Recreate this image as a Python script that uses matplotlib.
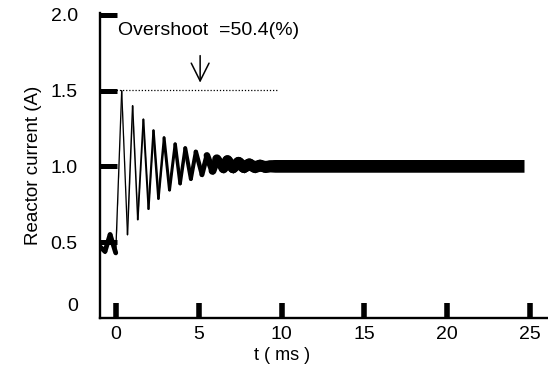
import numpy as np
import matplotlib
matplotlib.use("Agg")
import matplotlib.pyplot as plt
import matplotlib.transforms as mtransforms
from matplotlib.collections import LineCollection

plt.rcParams['font.family'] = ['Liberation Sans', 'DejaVu Sans']

# extrema of the reactor current waveform (t in ms, current in A)
t_ext = [-0.97, -0.67, -0.36, -0.02, 0.34, 0.69, 1.00, 1.31, 1.65, 1.96,
         2.26, 2.56, 2.90, 3.23, 3.57, 3.87, 4.18, 4.52, 4.82, 5.19,
         5.49, 5.83, 6.09, 6.49, 6.73, 7.07, 7.40, 7.72, 8.05, 8.37,
         8.70, 9.00, 9.30, 9.60, 24.65]
i_ext = [0.47, 0.44, 0.55, 0.43, 1.50, 0.55, 1.40, 0.65, 1.31, 0.72,
         1.237, 0.788, 1.19, 0.845, 1.148, 0.887, 1.121, 0.918, 1.097, 0.946,
         1.073, 0.971, 1.05, 0.988, 1.04, 0.991, 1.026, 0.995, 1.015, 0.996,
         1.007, 0.998, 1.002, 1.004, 1.004]
# half-thickness of the trace caused by the switching ripple (A)
ripple = [0.016, 0.016, 0.016, 0.016, 0.0043, 0.005, 0.005, 0.006, 0.0066, 0.0072,
          0.0082, 0.0082, 0.0099, 0.0099, 0.0115, 0.0115, 0.0132, 0.0132, 0.0148, 0.0164,
          0.022, 0.026, 0.030, 0.033, 0.035, 0.036, 0.038, 0.038, 0.038, 0.038,
          0.038, 0.038, 0.038, 0.042, 0.042]

overshoot = 50.4
peak_level = 1.505

t = np.array(t_ext)
i = np.array(i_ext)
r = np.array(ripple)

fig = plt.figure(figsize=(5.48, 3.65), dpi=100)
ax = fig.add_axes([0.1825, 0.1288, 0.8175, 0.8356])
ax.set_xlim(-0.97, 26.1)
ax.set_ylim(0, 2.013)

# ripple amplitude in A -> trace width in points, through the y scale
px_per_amp = ax.transData.transform((0, 1))[1] - ax.transData.transform((0, 0))[1]
widths = 2 * r * px_per_amp * 72 / fig.dpi

ax.fill_between(t, i - r, i + r, color='black', linewidth=0)
pts = np.column_stack([t, i])
segs = [pts[k:k + 2] for k in range(len(t) - 2)]
seg_w = [min(widths[k], widths[k + 1]) for k in range(len(t) - 2)]
lc = LineCollection(segs, linewidths=seg_w, colors='black', capstyle='round')
ax.add_collection(lc)

ax.plot([-0.36, 9.7], [peak_level, peak_level], color='black', lw=0.9, ls=(0, (1, 1.5)))
ax.annotate('', xy=(5.08, 1.535), xytext=(5.08, 1.75),
            arrowprops=dict(arrowstyle='->', color='black', lw=1.1,
                            mutation_scale=32))
ax.text(0.12, 1.90, 'Overshoot  =%.1f(%%)' % overshoot, fontsize=14,
        va='center', ha='left')

ax.set_xticks([0, 5, 10, 15, 20, 25])
ax.set_yticks([0, 0.5, 1.0, 1.5, 2.0])
ax.set_yticklabels(['0', '0.5', '1.0', '1.5', '2.0'])

for s in ['top', 'right']:
    ax.spines[s].set_visible(False)
for s in ['left', 'bottom']:
    ax.spines[s].set_linewidth(1.7)

ax.tick_params(axis='y', direction='in', length=12, width=3.6, labelsize=14, pad=16)
ax.tick_params(axis='x', direction='in', length=11, width=4, labelsize=14, pad=6)
ax.yaxis.get_major_ticks()[0].tick1line.set_visible(False)

# the "0" label sits a bit above the axis line
lab0 = ax.get_yticklabels()[0]
lab0.set_transform(lab0.get_transform() +
                   mtransforms.ScaledTranslation(0, 10 / 72, fig.dpi_scale_trans))

ax.set_xlabel('t ( ms )', fontsize=13)
ax.xaxis.set_label_coords(0.406, -0.095)
ax.set_ylabel('Reactor current (A)', fontsize=13.5)
ax.yaxis.set_label_coords(-0.13, 0.5)

fig.savefig('out.png', dpi=100)
